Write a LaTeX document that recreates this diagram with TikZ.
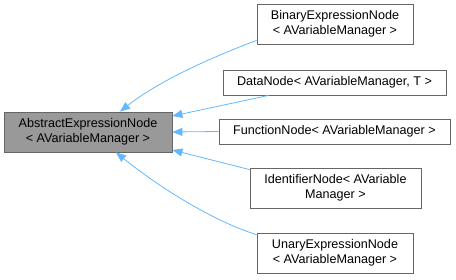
\documentclass[tikz,border=0pt]{standalone}
\usepackage{fontspec}
\setmainfont{Liberation Sans}
\usetikzlibrary{arrows.meta}
\definecolor{edgeblue}{HTML}{63B8FF}
\definecolor{boxborder}{HTML}{666666}
\definecolor{basefill}{HTML}{999999}
\begin{document}
\begin{tikzpicture}[x=1pt,y=-1pt,
  cls/.style={draw=boxborder,fill=white,line width=0.8pt,rectangle,inner sep=0pt,
    align=center,font=\fontsize{12.6}{15}\selectfont},
  basecls/.style={cls,fill=basefill},
  edge/.style={draw=edgeblue,line width=0.8pt,-{Triangle[length=10pt,width=8pt]}}]
\useasboundingbox (0,0) rectangle (456,279);
\node[basecls,minimum width=168pt,minimum height=40pt] (base) at (88,132) {AbstractExpressionNode\\\textless{} AVariableManager \textgreater};
\node[cls,minimum width=156pt,minimum height=40pt] (bin) at (335,24) {BinaryExpressionNode\\\textless{} AVariableManager \textgreater};
\node[cls,minimum width=223pt,minimum height=25pt] (data) at (334.5,82.5) {DataNode\textless{} AVariableManager, T \textgreater};
\node[cls,minimum width=231pt,minimum height=25pt] (func) at (334.5,131.5) {FunctionNode\textless{} AVariableManager \textgreater};
\node[cls,minimum width=171pt,minimum height=40pt] (ident) at (335.5,188) {IdentifierNode\textless{} AVariable\\Manager \textgreater};
\node[cls,minimum width=156pt,minimum height=40pt] (unary) at (335,253) {UnaryExpressionNode\\\textless{} AVariableManager \textgreater};
\draw[edge] ([yshift=4pt]bin.south west) .. controls (215,56) and (160,80) .. ([xshift=32pt]base.north);
\draw[edge] ([xshift=46pt]data.south west) -- ([yshift=16pt]base.east);
\draw[edge] (func.west) -- (base.east);
\draw[edge] ([yshift=-2pt]ident.north west) -- ([yshift=-18pt]base.east);
\draw[edge] ([yshift=-2pt]unary.north west) .. controls (215,222) and (160,188) .. ([xshift=28pt]base.south);
\end{tikzpicture}
\end{document}
